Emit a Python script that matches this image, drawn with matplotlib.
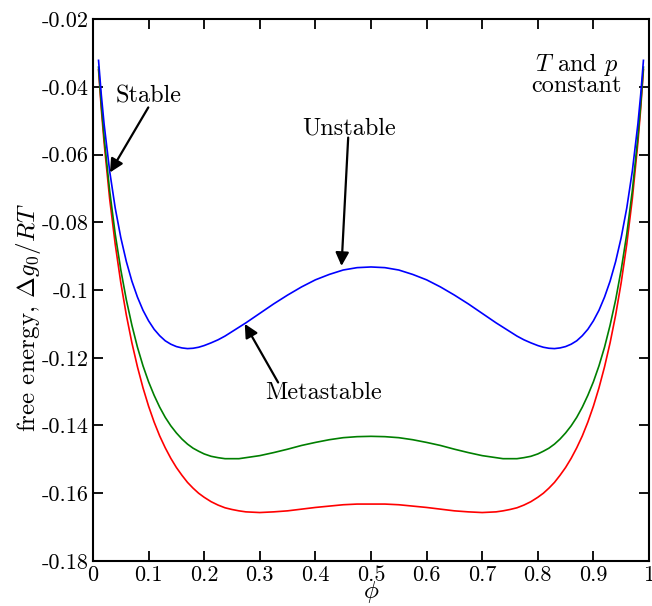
import matplotlib
matplotlib.use("Agg")
import matplotlib.pyplot as plt

plt.rcParams["mathtext.fontset"] = "cm"
plt.rcParams["font.family"] = "cmr10"
plt.rcParams["axes.unicode_minus"] = False

# volume fraction, left half (curves are symmetric about 0.5)
phi_left = [0.01, 0.015, 0.02, 0.03, 0.04, 0.05, 0.06, 0.07, 0.08, 0.09, 0.10,
            0.11, 0.12, 0.13, 0.14, 0.15, 0.16, 0.17, 0.18, 0.19, 0.20, 0.2125,
            0.225, 0.2375, 0.25, 0.2625, 0.275, 0.2875, 0.30, 0.325, 0.35, 0.375,
            0.40, 0.425, 0.45, 0.475]
phi_mid = [0.50]
phi = phi_left + phi_mid + [round(1 - p, 4) for p in reversed(phi_left)]

g_blue_left = [-0.0322, -0.0424, -0.0510, -0.0649, -0.0758, -0.0845, -0.0916, -0.0974,
               -0.1021, -0.1060, -0.1091, -0.1116, -0.1135, -0.1150, -0.1160, -0.1167,
               -0.1171, -0.1173, -0.1172, -0.1169, -0.1164, -0.1156, -0.1147, -0.1136,
               -0.1123, -0.1110, -0.1097, -0.1083, -0.1069, -0.1041, -0.1015, -0.0991,
               -0.0970, -0.0954, -0.0941, -0.0934]
g_blue_mid = [-0.0932]

g_green_left = [-0.0342, -0.0454, -0.0549, -0.0707, -0.0835, -0.0940, -0.1029, -0.1104,
                -0.1169, -0.1224, -0.1271, -0.1311, -0.1346, -0.1376, -0.1401, -0.1422,
                -0.1440, -0.1455, -0.1467, -0.1476, -0.1484, -0.1491, -0.1495, -0.1498,
                -0.1498, -0.1498, -0.1495, -0.1492, -0.1489, -0.1480, -0.1470, -0.1459,
                -0.1450, -0.1442, -0.1436, -0.1433]
g_green_mid = [-0.1432]

g_red_left = [-0.0350, -0.0466, -0.0565, -0.0731, -0.0865, -0.0978, -0.1074, -0.1156,
              -0.1227, -0.1289, -0.1343, -0.1390, -0.1431, -0.1466, -0.1497, -0.1524,
              -0.1547, -0.1568, -0.1585, -0.1600, -0.1612, -0.1625, -0.1635, -0.1643,
              -0.1648, -0.1652, -0.1655, -0.1656, -0.1657, -0.1655, -0.1652, -0.1647,
              -0.1642, -0.1638, -0.1634, -0.1632]
g_red_mid = [-0.1632]

g_blue = g_blue_left + g_blue_mid + g_blue_left[::-1]
g_green = g_green_left + g_green_mid + g_green_left[::-1]
g_red = g_red_left + g_red_mid + g_red_left[::-1]

xticks = [0, 0.1, 0.2, 0.3, 0.4, 0.5, 0.6, 0.7, 0.8, 0.9, 1]
xticklabels = ["0", "0.1", "0.2", "0.3", "0.4", "0.5", "0.6", "0.7", "0.8", "0.9", "1"]
yticks = [-0.18, -0.16, -0.14, -0.12, -0.10, -0.08, -0.06, -0.04, -0.02]
yticklabels = ["-0.18", "-0.16", "-0.14", "-0.12", "-0.1", "-0.08", "-0.06", "-0.04", "-0.02"]

fig = plt.figure(figsize=(6.52, 6.06), dpi=100)
ax = fig.add_axes([0.1426, 0.0743, 0.8528, 0.8943])

ax.plot(phi, g_red, color="#ff0000", lw=1.2)
ax.plot(phi, g_green, color="#007f00", lw=1.2)
ax.plot(phi, g_blue, color="#0000ff", lw=1.2)

ax.set_xlim(0, 1)
ax.set_ylim(-0.18, -0.02)
ax.set_xticks(xticks)
ax.set_xticklabels(xticklabels)
ax.set_yticks(yticks)
ax.set_yticklabels(yticklabels)
ax.tick_params(direction="in", length=7, width=1.3, labelsize=16,
               top=True, right=True, pad=3)
for s in ax.spines.values():
    s.set_linewidth(1.5)

ax.set_xlabel(r"$\phi$", fontsize=18, labelpad=-4)
ax.set_ylabel(r"free energy, $\Delta g_0/RT$", fontsize=18)
ax.yaxis.set_label_coords(-0.09, 0.45)

arrow = dict(arrowstyle="-|>", color="black", lw=1.6, mutation_scale=20,
             shrinkA=0, shrinkB=0)
ax.text(0.0995, -0.0428, "Stable", fontsize=17.5, ha="center", va="center")
ax.annotate("", xy=(0.0306, -0.0653), xytext=(0.0995, -0.0461), arrowprops=arrow)
ax.text(0.46, -0.0522, "Unstable", fontsize=17.5, ha="center", va="center")
ax.annotate("", xy=(0.447, -0.0929), xytext=(0.459, -0.0550), arrowprops=arrow)
ax.text(0.415, -0.1305, "Metastable", fontsize=17.5, ha="center", va="center")
ax.annotate("", xy=(0.273, -0.110), xytext=(0.333, -0.1273), arrowprops=arrow)
ax.text(0.87, -0.0362, "$T$ and $p$\nconstant", fontsize=17.5, ha="center",
        va="center", linespacing=0.85)

fig.savefig("out.png", dpi=100)
